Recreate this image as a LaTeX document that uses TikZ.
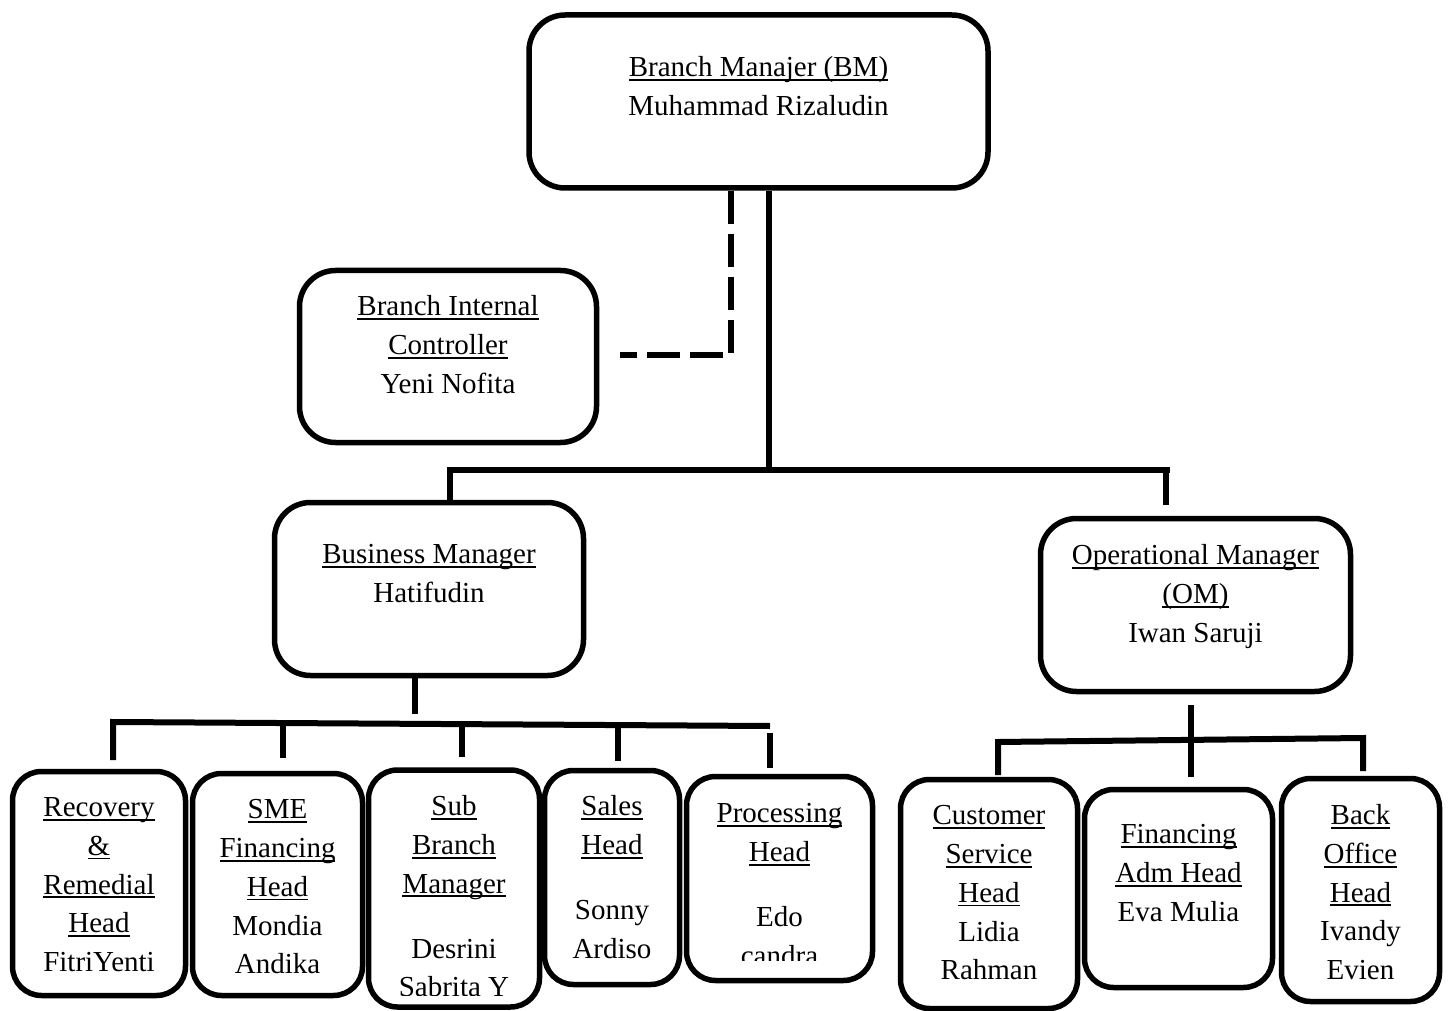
\documentclass[tikz,border=0pt]{standalone}
\usepackage{fontspec}
\setmainfont{Liberation Serif}
\newcommand\uln[1]{\leavevmode\setbox0=\hbox{#1}\rlap{\rule[-4pt]{\wd0}{1.8pt}}\box0}
\begin{document}
\begin{tikzpicture}[x=1pt,y=-1pt,
 box/.style={draw, line width=5.5pt, rounded corners=29pt, inner sep=0pt},
 bigbox/.style={box, rounded corners=36pt},
 txt/.style={align=center, anchor=north, inner sep=0pt, font=\fontsize{29}{38.7}\selectfont},
 conn/.style={line width=6pt},
 dconn/.style={line width=6pt, dash pattern=on 33pt off 10pt}]
\useasboundingbox (0,0) rectangle (1449,1011);

% boxes
\node[bigbox, minimum width=459pt, minimum height=173pt] (bm) at (758.5,101.5) {};
\node[bigbox, minimum width=297pt, minimum height=172pt] (bic) at (448,356.5) {};
\node[bigbox, minimum width=309pt, minimum height=173pt] (bum) at (429,589) {};
\node[bigbox, minimum width=310pt, minimum height=173pt] (om) at (1195.5,605) {};
\node[box, minimum width=173pt, minimum height=224pt] (rec) at (99,883.5) {};
\node[box, minimum width=170pt, minimum height=222pt] (sme) at (277.5,884.5) {};
\node[box, minimum width=171pt, minimum height=237pt] (sub) at (454,888.5) {};
\node[box, minimum width=135pt, minimum height=214pt] (sal) at (612,877.5) {};
\node[box, minimum width=186pt, minimum height=204pt] (pro) at (779.5,878.5) {};
\node[box, minimum width=177pt, minimum height=229pt] (cs) at (989,894) {};
\node[box, minimum width=188pt, minimum height=198pt] (fin) at (1178.5,888.5) {};
\node[box, minimum width=158pt, minimum height=223pt] (bo) at (1360.5,890) {};

% texts
\node[txt] (bmt) at (758.5,56.5) {\uln{Branch Manajer (BM)}\\Muhammad Rizaludin};
\node[txt] (bict) at (448,295.5) {\uln{Branch Internal}\\\uln{Controller}\\Yeni Nofita};
\node[txt] (bumt) at (429,544.5) {\uln{Business Manager}\\Hatifudin};
\node[txt] (omt) at (1195.5,544.5) {\uln{Operational Manager}\\\uln{(OM)}\\Iwan Saruji};
\node[txt] (rect) at (99,797.5) {\uln{Recovery}\\\uln{\&}\\\uln{Remedial}\\\uln{Head}\\FitriYenti};
\node[txt] (smet) at (277.5,799.5) {\uln{SME}\\\uln{Financing}\\\uln{Head}\\Mondia\\Andika};
\begin{scope}
\clip (360,760) rectangle (548,995);
\node[txt] (subt) at (454,795.5) {\uln{Sub}\\\uln{Branch}\\\uln{Manager}\\[26.3pt]Desrini\\Sabrita Y};
\end{scope}
\node[txt] (salt) at (612,795.5) {\uln{Sales}\\\uln{Head}\\[26.3pt]Sonny\\Ardiso};
\begin{scope}
\clip (680,760) rectangle (878,960);
\node[txt] (prot) at (779.5,803.5) {\uln{Processing}\\\uln{Head}\\[26.3pt]Edo\\candra};
\end{scope}
\node[txt] (cst) at (989,805.5) {\uln{Customer}\\\uln{Service}\\\uln{Head}\\Lidia\\Rahman};
\node[txt] (fint) at (1178.5,824.5) {\uln{Financing}\\\uln{Adm Head}\\Eva Mulia};
\node[txt] (bot) at (1360.5,804.5) {\uln{Back}\\\uln{Office}\\\uln{Head}\\Ivandy\\Evien};

% top connectors
\coordinate (j0) at (769,470);
\coordinate (hl) at (450,470);
\coordinate (hr) at (1170,470);
\coordinate (omtop) at (1166,505);
\draw[conn] (bm.south -| j0) -- (j0);
\draw[conn] (bum.north -| hl) -- (hl) -- (hr);
\draw[conn] (omtop |- hr) -- (omtop);

% dashed connector
\coordinate (d1) at (731,355);
\coordinate (d2) at (620,355);
\draw[dconn] (bm.south -| d1) -- (d1) -- (d2);

% business manager connectors
\coordinate (b1) at (415,714);
\draw[conn] (bum.south -| b1) -- (b1);
\coordinate (bl0) at (113,760);
\coordinate (bl) at (113,722);
\coordinate (br) at (770,726);
\draw[conn] (bl0) -- (bl) -- (br);
\coordinate (s2t) at (283,723);  \coordinate (s2b) at (283,758);
\coordinate (s3t) at (462,724);  \coordinate (s3b) at (462,757);
\coordinate (s4t) at (618,725);  \coordinate (s4b) at (618,761);
\coordinate (s5t) at (770,733);  \coordinate (s5b) at (770,768);
\draw[conn] (s2t) -- (s2b);
\draw[conn] (s3t) -- (s3b);
\draw[conn] (s4t) -- (s4b);
\draw[conn] (s5t) -- (s5b);

% operational manager connectors
\coordinate (o1) at (1191,705);
\coordinate (o2) at (1191,777);
\draw[conn] (o1) -- (o2);
\coordinate (ol0) at (998,775);
\coordinate (ol) at (998,742);
\coordinate (or) at (1363,738);
\coordinate (or0) at (1363,771);
\draw[conn] (ol0) -- (ol) -- (or) -- (or0);
\end{tikzpicture}
\end{document}
